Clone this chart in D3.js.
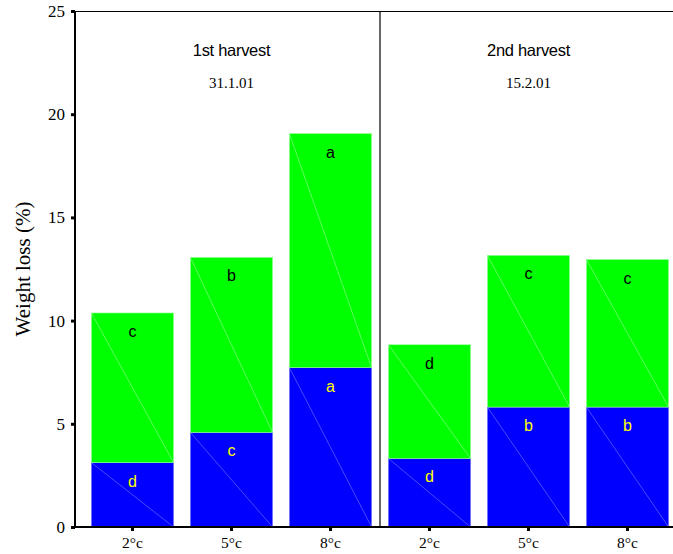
<!DOCTYPE html>
<html>
<head>
<meta charset="utf-8">
<script src="https://cdn.jsdelivr.net/npm/d3@7"></script>
<style>
  body { margin: 0; background: #fff; }
  svg { display: block; }
</style>
</head>
<body>
<svg id="chart" width="673" height="554"></svg>
<script>
// Weight loss (%) by storage temperature for two harvests
const harvests = ["1st harvest", "2nd harvest"];
const harvestDates = ["31.1.01", "15.2.01"];
const temperatures = ["2°c", "5°c", "8°c"];
// lower (blue) segment and total bar height, per harvest × temperature
const lowerValues = [3.12, 4.58, 7.72, 3.32, 5.81, 5.81];
const totalValues = [10.37, 13.06, 19.06, 8.83, 13.16, 12.96];
const lowerLetters = ["d", "c", "a", "d", "b", "b"];
const upperLetters = ["c", "b", "a", "d", "c", "c"];
const yTicks = [0, 5, 10, 15, 20, 25];

const svg = d3.select("#chart");
const plotLeft = 75, plotTop = 11, plotBottom = 527, plotRight = 673;

const cats = d3.range(6);
const x = d3.scaleBand().domain(cats).range([83, 677]).paddingInner(0.17).paddingOuter(0.085);
const y = d3.scaleLinear().domain([0, 25]).range([plotBottom, plotTop]);

const bars = cats.map(i => ({
  i,
  lo: lowerValues[i],
  hi: totalValues[i],
  loLetter: lowerLetters[i],
  hiLetter: upperLetters[i]
}));

// stacked segments
const segs = [];
bars.forEach(b => {
  segs.push({ i: b.i, y0: 0, y1: b.lo, fill: "#0000ff", edge: "#7a7aff", letter: b.loLetter, textFill: "#ffff00" });
  segs.push({ i: b.i, y0: b.lo, y1: b.hi, fill: "#00ff00", edge: "#9cff9c", letter: b.hiLetter, textFill: "#000" });
});

const g = svg.append("g");
g.selectAll("rect.seg").data(segs).join("rect")
  .attr("class", "seg")
  .attr("x", d => x(d.i))
  .attr("y", d => y(d.y1))
  .attr("width", x.bandwidth())
  .attr("height", d => y(d.y0) - y(d.y1))
  .attr("fill", d => d.fill)
  .attr("stroke", d => d.edge)
  .attr("stroke-width", 0.6);

// thin diagonal in every segment
g.selectAll("line.diag").data(segs).join("line")
  .attr("class", "diag")
  .attr("x1", d => x(d.i))
  .attr("y1", d => y(d.y1))
  .attr("x2", d => x(d.i) + x.bandwidth())
  .attr("y2", d => y(d.y0))
  .attr("stroke", d => d.edge)
  .attr("stroke-width", 0.6);

g.selectAll("text.letter").data(segs).join("text")
  .attr("class", "letter")
  .attr("x", d => x(d.i) + x.bandwidth() / 2)
  .attr("y", d => y(d.y1) + 24)
  .attr("text-anchor", "middle")
  .attr("font-family", "Liberation Sans, Arial, sans-serif")
  .attr("font-size", 16)
  .attr("fill", d => d.textFill)
  .text(d => d.letter);

// frame: top line and divider between harvests
svg.append("line").attr("x1", plotLeft).attr("x2", plotRight).attr("y1", plotTop + 0.5).attr("y2", plotTop + 0.5)
  .attr("stroke", "#000").attr("stroke-width", 1.2);
const divX = (x(2) + x.bandwidth() + x(3)) / 2;
svg.append("line").attr("x1", divX).attr("x2", divX).attr("y1", plotTop).attr("y2", plotBottom)
  .attr("stroke", "#000").attr("stroke-width", 1.2);

// y axis
const yAxis = svg.append("g").attr("transform", `translate(${plotLeft},0)`)
  .call(d3.axisLeft(y).tickValues(yTicks).tickSize(4).tickPadding(6).tickFormat(d3.format("d")));
yAxis.select(".domain").attr("stroke-width", 2).attr("d", `M0,${plotTop}V${plotBottom + 1}`);
yAxis.selectAll(".tick line").attr("stroke-width", 3).attr("x2", -4);
yAxis.selectAll(".tick text")
  .attr("font-family", "Liberation Serif, Times New Roman, serif")
  .attr("font-size", 17).attr("fill", "#000");

// x axis
const xAxis = svg.append("g").attr("transform", `translate(0,${plotBottom})`)
  .call(d3.axisBottom(x).tickSize(4).tickPadding(6).tickFormat(i => temperatures[i % 3]));
xAxis.select(".domain").attr("stroke-width", 2).attr("d", `M${plotLeft - 4},0H${plotRight}`);
xAxis.selectAll(".tick line").attr("stroke-width", 3);
xAxis.selectAll(".tick text")
  .attr("font-family", "Liberation Serif, Times New Roman, serif")
  .attr("font-size", 15.5).attr("fill", "#000");

// harvest titles
harvests.forEach((h, k) => {
  const cx = x(k * 3 + 1) + x.bandwidth() / 2;
  svg.append("text").attr("x", cx).attr("y", 56).attr("text-anchor", "middle")
    .attr("font-family", "Liberation Sans, Arial, sans-serif").attr("font-size", 16.5)
    .attr("letter-spacing", -0.3).text(h);
  svg.append("text").attr("x", cx).attr("y", 88).attr("text-anchor", "middle")
    .attr("font-family", "Liberation Serif, Times New Roman, serif").attr("font-size", 15)
    .text(harvestDates[k]);
});

// y axis title
svg.append("text")
  .attr("transform", `translate(30,${(plotTop + plotBottom) / 2}) rotate(-90)`)
  .attr("text-anchor", "middle")
  .attr("font-family", "Liberation Serif, Times New Roman, serif")
  .attr("font-size", 21)
  .text("Weight loss (%)");
</script>
</body>
</html>
